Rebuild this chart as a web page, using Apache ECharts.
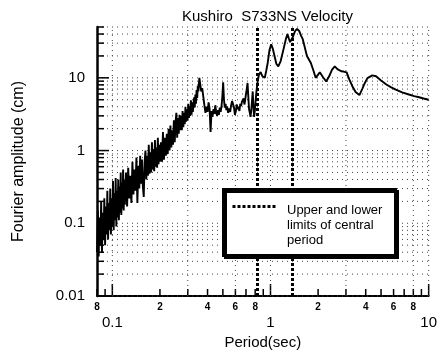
<!DOCTYPE html>
<html><head><meta charset="utf-8">
<script src="https://cdn.jsdelivr.net/npm/echarts@6/dist/echarts.min.js"></script>
<style>html,body{margin:0;padding:0;background:#fff}#c{width:440px;height:360px}</style>
</head><body><div id="c"></div>
<script>
const titleText = 'Kushiro  S733NS Velocity';
const xName = 'Period(sec)';
const yName = 'Fourier amplitude (cm)';
const legendText = 'Upper and lower\nlimits of central\nperiod';

// spectrum, short periods (dense, noisy)
const periodsA = [0.080,0.081,0.082,0.083,0.084,0.085,0.086,0.087,0.088,0.089,0.090,0.091,0.092,0.093,0.094,0.095,0.096,0.097,0.098,0.099,0.100,0.101,0.102,0.103,0.104,0.105,0.106,0.107,0.108,0.109,0.110,0.111,0.112,0.113,0.114,0.115,0.116,0.117,0.118,0.119,0.120];
const ampA = [0.04,0.15,0.035,0.12,0.05,0.20,0.04,0.14,0.06,0.22,0.05,0.17,0.07,0.28,0.06,0.19,0.08,0.30,0.07,0.22,0.09,0.38,0.08,0.26,0.11,0.42,0.09,0.28,0.12,0.40,0.11,0.32,0.14,0.50,0.13,0.36,0.16,0.55,0.15,0.40,0.18];
const periodsB = [0.122,0.124,0.126,0.128,0.130,0.132,0.134,0.136,0.138,0.140,0.142,0.144,0.146,0.148,0.150,0.152,0.154,0.156,0.158,0.160,0.162,0.164,0.166,0.168,0.170,0.172,0.174,0.176,0.178,0.180,0.182,0.184,0.186,0.188,0.190,0.192,0.194,0.196,0.198,0.200];
const ampB = [0.50,0.17,0.58,0.22,0.45,0.19,0.70,0.25,0.55,0.28,0.80,0.19,0.62,0.30,0.85,0.35,0.75,0.32,0.23,0.70,1.00,0.40,0.85,0.45,1.20,0.48,0.95,0.50,1.30,0.55,1.05,0.52,1.40,0.60,1.10,0.58,1.50,0.65,1.20,0.70];
const periodsC = [0.203,0.206,0.209,0.212,0.215,0.218,0.221,0.224,0.227,0.230,0.233,0.236,0.239,0.242,0.245,0.248,0.251,0.254,0.257,0.260,0.263,0.266,0.269,0.272,0.275,0.278,0.281,0.284,0.287,0.290,0.293,0.296,0.299,0.302,0.305,0.308,0.311,0.314,0.317,0.320,0.323,0.326,0.329,0.332,0.335,0.338,0.341,0.344,0.347,0.350];
const ampC = [1.30,0.70,1.8,0.75,1.50,0.85,1.70,0.90,2.00,1.00,2.20,1.10,1.90,1.20,2.60,1.30,2.40,3.30,1.50,2.80,1.70,3.10,1.90,3.00,1.90,3.50,2.10,3.30,2.30,4.00,2.50,3.70,2.60,4.40,2.80,4.10,3.00,4.90,3.10,4.60,3.40,4.40,5.40,3.90,5.90,4.40,6.80,5.30,7.80,6.50];
const periodsD = [0.355,0.360,0.365,0.370,0.376,0.382,0.388,0.394,0.400,0.406,0.412,0.418,0.424,0.430,0.436,0.442,0.448,0.454,0.460,0.466,0.472,0.478,0.484,0.490,0.496,0.502,0.508,0.514,0.520,0.526,0.532,0.540,0.548,0.556,0.564,0.572,0.580,0.588,0.596,0.604,0.612,0.620,0.628,0.636,0.644,0.652,0.660,0.668,0.676,0.684,0.692,0.700,0.708,0.716,0.724,0.732,0.740,0.748,0.756,0.764,0.772,0.780,0.788,0.796,0.804];
const ampD = [10.0,8.0,6.5,7.2,5.5,4.2,3.3,4.0,3.4,4.6,3.8,1.8,3.5,2.9,3.7,3.2,4.2,3.3,3.0,3.6,3.1,3.9,3.4,4.0,5.5,8.7,5.0,3.9,4.4,3.6,4.0,3.3,3.8,3.4,4.2,4.8,5.0,3.9,3.1,3.5,4.3,3.7,4.0,3.5,4.4,4.1,4.7,4.5,5.2,4.3,5.0,6.0,7.0,8.5,5.5,3.7,3.3,2.9,3.6,4.8,6.5,4.0,2.9,3.5,4.6];
// spectrum, long periods (smooth)
const periodsE = [0.815,0.830,0.845,0.866,0.890,0.920,0.940,0.960,0.985,1.010,1.035,1.060,1.090,1.120,1.160,1.210,1.250,1.280,1.305,1.330,1.360,1.390,1.430,1.470,1.520,1.560,1.600,1.650,1.700,1.740,1.800,1.870,1.930,1.970,2.050,2.150,2.250,2.350,2.450,2.550,2.650,2.800,2.900,3.030,3.150,3.300,3.450,3.650,3.800,3.950,4.100,4.400,4.650,5.000,5.400,5.800,6.200,6.800,7.500,8.100,8.700,9.300,10.00];
const ampE = [6.5,9.0,11.0,12.0,10.5,10.0,12.5,16.0,24.0,29.0,25.0,20.0,15.5,14.4,17.0,25.0,34.0,40.0,35.0,31.0,33.0,37.0,44.0,47.0,44.0,38.0,34.0,26.0,20.0,19.0,16.0,12.5,10.0,9.5,11.9,10.2,8.9,10.5,13.0,14.4,13.2,12.3,12.2,11.9,9.5,7.6,6.4,5.8,7.0,8.5,9.9,10.8,10.5,9.2,8.1,7.4,6.9,6.3,5.9,5.6,5.4,5.2,5.0];

// central period limits (sec)
const centralLimits = [0.83, 1.37];

// axis ranges and ticks
const xRange = [0.08, 10];
const yRange = [0.01, 50];
const xMajorTicks = [0.1, 1, 10];
const xMinorTicks = [0.08, 0.09, 0.2, 0.3, 0.4, 0.5, 0.6, 0.7, 0.8, 0.9, 2, 3, 4, 5, 6, 7, 8, 9];
const xMinorLabelValues = [0.08, 0.2, 0.4, 0.6, 0.8, 2, 4, 6, 8];
const xMinorLabelTexts = ['8', '2', '4', '6', '8', '2', '4', '6', '8'];
const xGridValues = [0.1, 0.3, 0.6, 1, 3, 8, 10];
const yMajorTicks = [0.01, 0.1, 1, 10];
const yMinorTicks = [0.02,0.03,0.04,0.05,0.06,0.07,0.08,0.09,0.2,0.3,0.4,0.5,0.6,0.7,0.8,0.9,2,3,4,5,6,7,8,9,20,30,40,50];

const FONT = '"Liberation Sans", Arial, Helvetica, sans-serif';

function pairs(p, a) { return p.map((v, i) => [v, a[i]]); }
const spectrum = [].concat(pairs(periodsA, ampA), pairs(periodsB, ampB), pairs(periodsC, ampC), pairs(periodsD, ampD), pairs(periodsE, ampE));

function isPow10(v) { const l = Math.log10(v); return Math.abs(l - Math.round(l)) < 1e-6; }
function powLabel(v) { return isPow10(v) ? String(Number(Math.pow(10, Math.round(Math.log10(v))).toPrecision(6))) : ''; }

const xTicks = xMajorTicks.map(v => [v, 1]).concat(xMinorTicks.map(v => [v, 0]));
const yTicks = yMajorTicks.map(v => [v, 1]).concat(yMinorTicks.map(v => [v, 0]));

const chart = echarts.init(document.getElementById('c'), null, { renderer: 'canvas' });
chart.setOption({
  animation: false,
  backgroundColor: '#fff',
  title: {
    text: titleText, left: 182, top: 9, padding: 0,
    textStyle: { fontFamily: FONT, fontSize: 15, fontWeight: 'normal', color: '#000' }
  },
  grid: { left: 97, right: 11, top: 27, bottom: 64 },
  xAxis: {
    type: 'log', min: xRange[0], max: xRange[1],
    name: xName, nameLocation: 'middle', nameGap: 39,
    nameTextStyle: { fontFamily: FONT, fontSize: 15, color: '#000' },
    axisLine: { lineStyle: { color: '#000', width: 2 } },
    axisTick: { show: false },
    splitLine: { show: false },
    axisLabel: {
      margin: 19, fontFamily: FONT, fontSize: 15, color: '#000',
      showMinLabel: true, showMaxLabel: true, hideOverlap: false,
      formatter: v => powLabel(v)
    }
  },
  yAxis: {
    type: 'log', min: yRange[0], max: yRange[1],
    name: yName, nameLocation: 'middle', nameGap: 70,
    nameTextStyle: { fontFamily: FONT, fontSize: 16, color: '#000' },
    axisLine: { lineStyle: { color: '#000', width: 2.5 } },
    axisTick: { show: false },
    splitLine: { show: false },
    axisLabel: {
      margin: 12, fontFamily: FONT, fontSize: 15, color: '#000',
      formatter: v => powLabel(v)
    }
  },
  series: [
    {
      // x ticks, minor labels and vertical dotted grid
      type: 'custom', silent: true, z: 1,
      data: xTicks.map(t => [t[0], yRange[0], t[1]]),
      renderItem: function (params, api) {
        const v = api.value(0), major = api.value(2);
        const p = api.coord([v, yRange[0]]);
        const top = api.coord([v, yRange[1]]);
        const len = major ? 12 : 7;
        const children = [{
          type: 'line', shape: { x1: p[0], y1: p[1], x2: p[0], y2: p[1] - len },
          style: { stroke: '#000', lineWidth: 1.5 }
        }];
        if (xGridValues.some(g => Math.abs(g - v) < 1e-9)) {
          children.push({ type: 'line', shape: { x1: p[0], y1: p[1], x2: p[0], y2: top[1] },
            style: { stroke: '#444', lineWidth: 1, lineDash: [1, 4] } });
        }
        const li = xMinorLabelValues.findIndex(g => Math.abs(g - v) < 1e-9);
        if (li >= 0) {
          children.push({ type: 'text', x: p[0], y: p[1] + 11,
            style: { text: xMinorLabelTexts[li], align: 'center', verticalAlign: 'middle',
              font: 'bold 10px ' + FONT, fill: '#000' } });
        }
        return { type: 'group', children: children };
      }
    },
    {
      // y ticks and horizontal dotted grid
      type: 'custom', silent: true, z: 1,
      data: yTicks.map(t => [xRange[0], t[0], t[1]]),
      renderItem: function (params, api) {
        const v = api.value(1), major = api.value(2);
        const p = api.coord([xRange[0], v]);
        const r = api.coord([xRange[1], v]);
        const len = major ? 12 : 7;
        return { type: 'group', children: [
          { type: 'line', shape: { x1: p[0], y1: p[1], x2: r[0], y2: p[1] },
            style: { stroke: '#444', lineWidth: 1, lineDash: [1, 4] } },
          { type: 'line', shape: { x1: p[0], y1: p[1], x2: p[0] + len, y2: p[1] },
            style: { stroke: '#000', lineWidth: 1.5 } }
        ] };
      }
    },
    {
      type: 'line', name: 'spectrum', z: 3,
      data: spectrum, showSymbol: false, symbol: 'none',
      lineStyle: { color: '#000', width: 1.9 },
      markLine: {
        silent: true, symbol: 'none', label: { show: false },
        lineStyle: { color: '#000', width: 3, type: [3, 2] },
        data: centralLimits.map(v => ({ xAxis: v }))
      }
    }
  ],
  graphic: [
    { type: 'rect', z: 100, left: 222, top: 188, shape: { width: 172, height: 66 },
      style: { fill: '#fff', stroke: '#000', lineWidth: 3, shadowColor: '#000', shadowOffsetX: 2, shadowOffsetY: 2, shadowBlur: 0 } },
    { type: 'line', z: 101, left: 230, top: 204, shape: { x1: 0, y1: 0, x2: 43, y2: 0 },
      style: { stroke: '#000', lineWidth: 3, lineDash: [3, 2] } },
    { type: 'text', z: 101, left: 287, top: 203,
      style: { text: legendText, font: '13px ' + FONT, lineHeight: 15, fill: '#000' } }
  ]
});
</script></body></html>
